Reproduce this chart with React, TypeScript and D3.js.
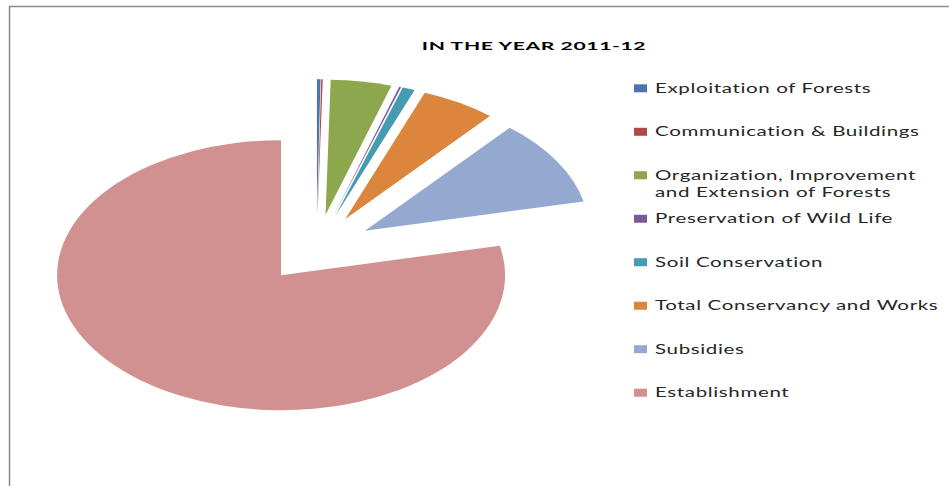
import React from "react";
import * as d3 from "d3";

// ---- data (share of expenditure, %) ----
const categories = [
  "Exploitation of Forests",
  "Communication & Buildings",
  "Organization, Improvement and Extension of Forests",
  "Preservation of Wild Life",
  "Soil Conservation",
  "Total Conservancy and Works",
  "Subsidies",
  "Establishment",
];
const legendLines = [
  ["Exploitation of Forests"],
  ["Communication & Buildings"],
  ["Organization, Improvement", "and Extension of Forests"],
  ["Preservation of Wild Life"],
  ["Soil Conservation"],
  ["Total Conservancy and Works"],
  ["Subsidies"],
  ["Establishment"],
];
const values = [0.25, 0.11, 4.39, 0.14, 0.89, 5.39, 10.33, 78.5];
const colors = ["#4A74AA", "#B04A48", "#8CA74C", "#755C97", "#449BB2", "#DB853D", "#94A9D0", "#D19191"];
const title = "IN THE YEAR 2011-12";

export default function App() {
  const W = 949, H = 486;
  const cx = 316.5, cy = 248.5, rx = 224, ry = 135, explode = 0.253;

  const pie = d3.pie<number>().sort(null).value((d) => d)(values);
  const arc = d3.arc<d3.PieArcDatum<number>>().innerRadius(0).outerRadius(1);

  const legendY = d3.scalePoint<number>().domain(d3.range(8)).range([88.3, 392.7]);

  const font = "Lato, 'Open Sans', sans-serif";
  const sx = 1.58;

  return (
    <svg width={W} height={H} style={{ position: "absolute", left: 0, top: 0, background: "#fff" }}>
      <rect x={0} y={0} width={W} height={H} fill="#fff" />
      <line x1={9} y1={6.5} x2={W} y2={6.5} stroke="#8a8a8a" strokeWidth={1.5} />
      <line x1={9.5} y1={6} x2={9.5} y2={H} stroke="#8a8a8a" strokeWidth={1.5} />

      <g transform={`translate(534,49.5) scale(1.76,1)`}>
        <text textAnchor="middle" fontFamily={font} fontWeight="bold" fontSize={12} fill="#000" letterSpacing={0.35}>
          {title}
        </text>
      </g>

      <g transform={`translate(${cx},${cy}) scale(${rx},${ry})`}>
        {pie.map((p, i) => {
          const b = (p.startAngle + p.endAngle) / 2;
          const dx = explode * Math.sin(b);
          const dy = -explode * Math.cos(b);
          return (
            <path key={i} d={arc(p) || ""} fill={colors[i]} transform={`translate(${dx},${dy})`} />
          );
        })}
      </g>

      {categories.map((c, i) => {
        const y = legendY(i)!;
        return (
          <g key={c}>
            <rect x={634} y={y - 4} width={13} height={8} fill={colors[i]} />
            {legendLines[i].map((ln, j) => (
              <g key={j} transform={`translate(655,${y + 4.6 + j * 16.8}) scale(${sx},1)`}>
                <text fontFamily={font} fontSize={13} fill="#262626" fontWeight={400} letterSpacing={0.4}>
                  {ln}
                </text>
              </g>
            ))}
          </g>
        );
      })}
    </svg>
  );
}
